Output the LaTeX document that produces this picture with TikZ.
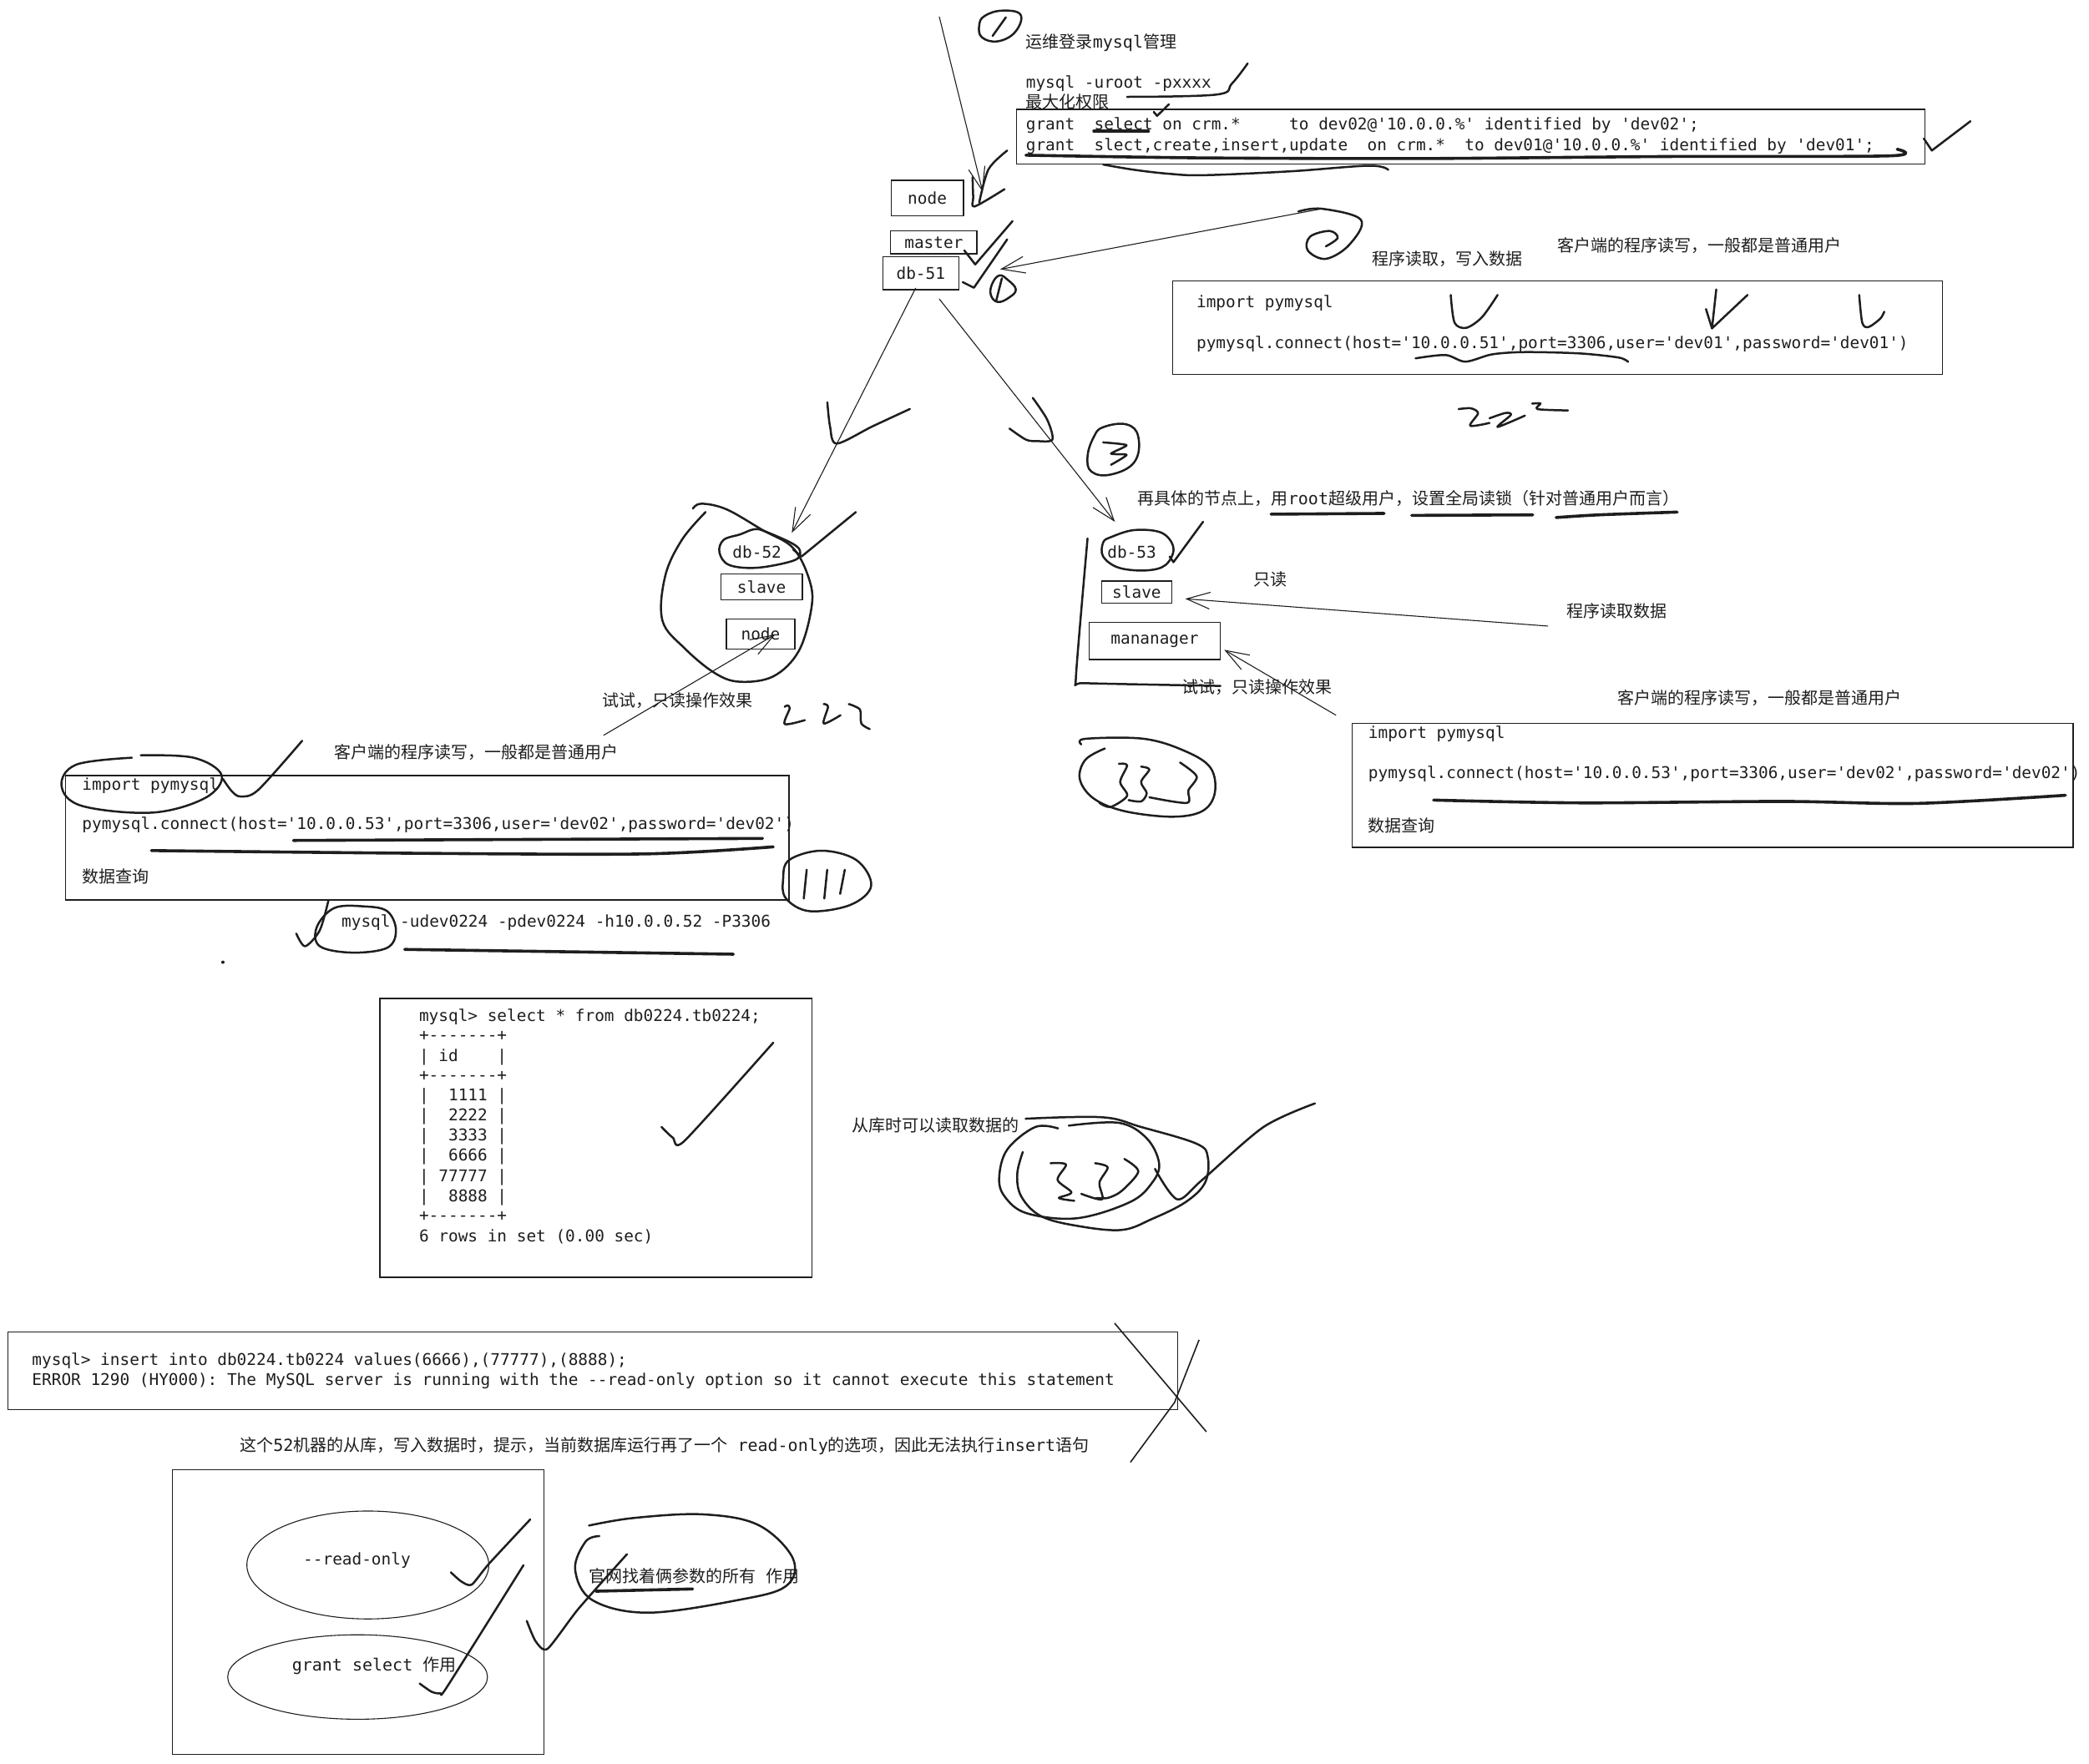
\documentclass[tikz,border=0pt]{standalone}
\usepackage{fontspec}
\setmonofont{DejaVu Sans Mono}
\newfontfamily\cjk{Noto Sans CJK SC}
\usetikzlibrary{arrows.meta,shapes.geometric}
\definecolor{ink}{HTML}{1E1E1E}
\begin{document}
\begin{tikzpicture}[x=1.5957pt,y=-1.5957pt,
 mono/.style={font=\ttfamily\fontsize{19.4}{23}\selectfont,text=ink,inner sep=0pt,anchor=west},
 zh/.style={font=\cjk\fontsize{20}{24}\selectfont,text=ink,inner sep=0pt,anchor=west},
 lbl/.style={mono,anchor=center},
 box/.style={draw=ink,line width=1.4pt},
 sz/.style 2 args={minimum width=#1*1.5957pt,minimum height=#2*1.5957pt,inner sep=0pt},
 thin/.style={draw=ink,line width=1.1pt},
 arr/.style={thin,-{Straight Barb[length=28pt,width=20pt]}},
 pen/.style={draw=ink,line width=2.5pt,line cap=round,line join=round},
 heavy/.style={pen,line width=3.6pt}]
\useasboundingbox (0,0) rectangle (1568,1323.6);
\fill[white] (0,0) rectangle (1568,1323.6);

% ---------- top: admin grants ----------
\draw[pen] plot[smooth cycle,tension=0.7] coordinates {(739,12) (752,8) (766,11) (762,24) (749,31) (737,28) (735,19)};
\draw[pen] (745,27) -- (755,13);
\node[zh] (t1) at (770,32) {运维登录{\ttfamily mysql}管理};
\node[mono] (t2) at (770,62.5) {mysql -uroot -pxxxx};
\node[zh] (t3) at (770,76.5) {最大化权限};
\draw[pen] plot[smooth,tension=0.6] coordinates {(936.5,47.6) (924.7,62.7) (913,71) (846,72.7)};
\draw[pen] (866,84) -- (868.5,87) -- (877.4,78.3);
\node[box,sz={682}{41}] (gbox) at (1104,102.5) {};
\node[mono] (g1) at (770,94) {grant~~select on crm.*~~~~~to dev02@'10.0.0.\%' identified by 'dev02';};
\node[mono] (g2) at (770,109.5) {grant~~slect,create,insert,update~~on crm.*~~to dev01@'10.0.0.\%' identified by 'dev01';};
\draw[heavy] (821,98.5) -- (862,98.5);
\draw[heavy] plot[smooth,tension=0.5] coordinates {(770,116.5) (900,118.5) (1068,119) (1250,117.5) (1418,117) (1424,112)};
\draw[pen] plot[smooth,tension=0.6] coordinates {(828,123.5) (851.5,127.5) (878,130.5) (904.2,131.5) (968.7,128.6) (1027.3,124.4) (1042,127.5)};
\draw[pen] (1444,104) -- (1450,113) -- (1479,91);

% ---------- master ----------
\node[box,sz={54.3}{26.5},lbl] (nodeA) at (696,148.6) {node};
\node[box,sz={64.7}{17.1},lbl] (master) at (700.9,182) {master};
\node[box,sz={57}{24.7},lbl] (db51) at (691.1,205) {db-51};
\coordinate (aTopS) at (705,12.5);
\coordinate (aTopE) at (737.6,144);
\draw[arr] (aTopS) -- (aTopE);
\draw[pen] plot[smooth,tension=0.5] coordinates {(730,133) (730.5,148) (731.5,155) (754,142)};
\draw[pen] plot[smooth,tension=0.5] coordinates {(756,113) (742,127) (735,152)};
\draw[pen] (723.8,188) -- (732,198.5) -- (760,166);
\draw[pen] (722.6,211.8) -- (731,216) -- (756,179.7);
\draw[pen] plot[smooth cycle,tension=0.7] coordinates {(750,206.8) (756.2,209.9) (762.5,217.3) (757.2,223.5) (748.9,226.7) (743.7,221.4) (744.7,213.1)};
\draw[pen] (747.8,225.6) -- (752,208.9);

% ---------- program 1 (dev01 -> db-51) ----------
\draw[pen] plot[smooth,tension=0.6] coordinates {(974.5,158.8) (992.2,156.7) (1021.5,165) (1012.7,183.8) (995.2,194.3) (981.6,188) (983.4,177.6) (998,173.4) (1004,178.6) (995.2,184.9)};
\coordinate (a2S) at (992.2,156.7);
\coordinate (a2E) at (750.7,202.2);
\draw[arr] (a2S) -- (a2E);
\node[zh] (t4) at (1030,194.3) {程序读取，写入数据};
\node[zh] (t5) at (1169,184.5) {客户端的程序读写，一般都是普通用户};
\node[box,sz={578}{70}] (p1box) at (1169,246) {};
\node[mono] (p1a) at (898,227.5) {import pymysql};
\node[mono] (p1b) at (898,258) {pymysql.connect(host='10.0.0.51',port=3306,user='dev01',password='dev01')};
\draw[pen] plot[smooth,tension=0.5] coordinates {(1088.9,221.4) (1091.8,242.3) (1100.6,246.1) (1112.4,238.1) (1124.1,221.4)};
\draw[pen] (1288.2,217.3) -- (1285,246.5) -- (1311.7,221.4);
\draw[pen] (1280.5,232) -- (1285,246.5);
\draw[pen] plot[smooth,tension=0.5] coordinates {(1395.5,221.4) (1397.8,242.3) (1402.5,245.5) (1411.3,239.2) (1414.3,234)};
\draw[pen] plot[smooth,tension=0.5] coordinates {(1062.5,269) (1085,266.5) (1100,271.5) (1120,266) (1144.6,264.3) (1185.6,265.3) (1214.9,268.4) (1222,271.6)};
\draw[pen] plot[smooth,tension=0.5] coordinates {(1094.8,307.1) (1104,306.5) (1109.4,310.2) (1103.5,319.6) (1118,317.5)};
\draw[pen] plot[smooth,tension=0.5] coordinates {(1118,314) (1130,310) (1134,311.5) (1124,320.5) (1144.6,312)};
\draw[pen] plot[smooth,tension=0.5] coordinates {(1150,303) (1156.3,302.9) (1154,307.1) (1176.9,308.1)};

% ---------- db-51 -> db-52 / db-53 ----------
\coordinate (c51a) at (687.3,216.2);
\coordinate (c52) at (594.3,400);
\draw[arr] (c51a) -- (c52);
\coordinate (c51b) at (705,224.4);
\coordinate (c53) at (836.8,391.7);
\draw[arr] (c51b) -- (c53);
\draw[pen] plot[smooth,tension=0.5] coordinates {(621,302) (623,320) (628,333) (655,320) (683,307)};
\draw[pen] plot[smooth,tension=0.5] coordinates {(757.7,321.7) (770,330) (778.2,331.1) (789.9,330) (786,315) (775.2,298.7)};
% circled 3
\draw[pen] plot[smooth cycle,tension=0.7] coordinates {(828,320.7) (845.6,318.6) (854.4,328) (851.5,346.8) (833.9,356.2) (819.3,354.1) (816.3,342.6) (821,328)};
\draw[pen] plot[smooth,tension=0.4] coordinates {(828,332.1) (845.6,334.2) (833.9,340.5) (845.6,341.5) (833.9,348.9)};

% ---------- db-52 group ----------
\draw[pen] plot[smooth,tension=0.6] coordinates {(520.1,381.8) (526.4,378.1) (545.2,382.3) (572.4,397.9) (595.4,411.5) (607.9,436.6) (608.9,457.5) (599.5,488.8) (580.7,507.6) (555.7,511.8) (536.9,505.5) (513.9,486.7) (497.2,465.8) (499.3,432.4) (511.8,405.3) (529.6,384.4)};
\draw[pen] plot[smooth cycle,tension=0.6] coordinates {(566.1,397.3) (574.5,399) (595.4,408.4) (600.6,414.7) (595.4,420.9) (568.2,426.2) (547.3,424.1) (540,414.7) (543.1,405.3) (555.7,401.1)};
\node[lbl] (db52) at (568.2,414.7) {db-52};
\node[box,sz={61.2}{19.7},lbl] (slave52) at (571.6,440.6) {slave};
\node[box,sz={51.4}{22.3},lbl] (node52) at (570.9,476) {node};
\draw[pen] (595.4,412.6) -- (601.6,417.8) -- (642.4,384.4);
\coordinate (tryL) at (453,552);
\coordinate (tryLE) at (581.8,476.3);
\draw[arr] (tryL) -- (tryLE);
\node[zh] (t6) at (452,526) {试试，只读操作效果};
\draw[pen] plot[smooth,tension=0.5] coordinates {(589,530.6) (590.8,529.6) (592.8,531.6) (589,543.5) (604.1,540.6)};
\draw[pen] plot[smooth,tension=0.5] coordinates {(618.3,528.5) (621.5,530.6) (618.3,543.1) (630.9,536.9)};
\draw[pen] plot[smooth,tension=0.5] coordinates {(637.1,528.5) (645.5,532.7) (646.5,543.1) (652.8,547.3)};

% ---------- db-53 group ----------
\node[zh] (t7) at (854,374) {再具体的节点上，用{\ttfamily root}超级用户，设置全局读锁（针对普通用户而言）};
\draw[heavy] (954,386) -- (1039,385.4);
\draw[heavy] (1059.6,386.9) -- (1150.5,386.5);
\draw[heavy] plot[smooth,tension=0.5] coordinates {(1168,388.5) (1200,386.5) (1258.9,384.4)};
\draw[pen] plot[smooth cycle,tension=0.6] coordinates {(833.9,403.2) (851.5,397.9) (872,400) (880.8,411.5) (874.9,424.1) (860.3,428.2) (839.8,426.2) (828,417.8) (828,407.3)};
\node[lbl] (db53) at (849.5,414.7) {db-53};
\draw[pen] (877.9,417.8) -- (880.8,422) -- (903,391.7);
\draw[pen] plot[smooth,tension=0.3] coordinates {(816.3,404.2) (807.5,509.7) (813.4,512.8) (916,514.9)};
\node[box,sz={52.7}{16.5},lbl] (slave53) at (853.2,444.4) {slave};
\node[box,sz={98.5}{27.8},lbl] (mgr) at (866.7,481.2) {mananager};
\node[zh] (t8) at (941,435) {只读};
\coordinate (rdS) at (1162,470);
\coordinate (rdE) at (889.6,449.5);
\draw[arr] (rdS) -- (rdE);
\node[zh] (t9) at (1176,458.5) {程序读取数据};
\coordinate (tryR) at (1002.8,536.9);
\coordinate (tryRE) at (918.9,487.8);
\draw[arr] (tryR) -- (tryRE);
\node[zh] (t10) at (887,516) {试试，只读操作效果};
\node[zh] (t11) at (1214,524) {客户端的程序读写，一般都是普通用户};
% (33)
\draw[pen] plot[smooth,tension=0.6] coordinates {(811.6,558.8) (814.7,554.6) (858.6,554.6) (889.9,564) (908.7,576.5) (911.8,595.4) (902.4,608.9) (879.4,613.1) (844,608.9) (821,599.5) (810.5,584.9) (814.7,570.3) (829.3,561.9)};
\draw[pen] plot[smooth,tension=0.5] coordinates {(839.8,573.4) (846,574.5) (840.8,587) (846,597.4) (833.5,605.8) (825.2,602.7)};
\draw[pen] plot[smooth,tension=0.5] coordinates {(856.5,575.5) (862.7,577.6) (856.5,587) (860.7,595.4) (856.5,601.6) (847.1,600.6)};
\draw[pen] plot[smooth,tension=0.5] coordinates {(885.7,572.4) (898.2,582.8) (892,593.3) (890.9,602.7) (862.7,598.5)};
\node[box,sz={541}{93}] (p3box) at (1285.5,589.5) {};
\node[mono] (p3a) at (1027,551) {import pymysql};
\node[mono] (p3b) at (1027,581) {pymysql.connect(host='10.0.0.53',port=3306,user='dev02',password='dev02')};
\node[zh] (p3c) at (1027,619.5) {数据查询};
\draw[heavy] plot[smooth,tension=0.5] coordinates {(1076,600.6) (1187,602.7) (1338.4,601.6) (1439.3,603.1) (1550.3,597)};

% ---------- program 2 (dev02 -> db-53) ----------
\node[zh] (t12) at (251,564.4) {客户端的程序读写，一般都是普通用户};
\node[box,sz={542.9}{93.3}] (p2box) at (320.75,628.95) {};
\node[mono] (p2a) at (61.6,589.5) {import pymysql};
\node[mono] (p2b) at (61.6,619.4) {pymysql.connect(host='10.0.0.53',port=3306,user='dev02',password='dev02')};
\node[zh] (p2c) at (61.6,657.7) {数据查询};
\draw[pen] plot[smooth,tension=0.6] coordinates {(99,568.8) (57.2,574) (46.2,590) (61.6,605) (114.5,610) (154,599) (166.4,582) (145.3,568.8) (105.7,567)};
\draw[pen] plot[smooth,tension=0.5] coordinates {(167.3,584.7) (174,594) (180.5,597.9) (193.7,593.1) (226.8,556.1)};
\draw[heavy] (220.2,630.9) -- (572.4,629.4);
\draw[heavy] plot[smooth,tension=0.5] coordinates {(113.6,638.5) (308.2,640.5) (484.4,641) (580.4,635.7)};
\draw[pen] plot[smooth cycle,tension=0.6] coordinates {(592.2,645.7) (616.5,638.6) (642.9,645.7) (653.9,664.9) (638.5,679.2) (607.7,684) (590,674.5) (587.8,660.1)};
\draw[pen] (605.5,652.9) -- (603.3,674.5);
\draw[pen] (620.9,652.9) -- (618.7,674.5);
\draw[pen] (634.1,652.9) -- (630.6,671);
\node[mono] (cmd) at (256.3,692.4) {mysql -udev0224 -pdev0224 -h10.0.0.52 -P3306};
\draw[pen] plot[smooth cycle,tension=0.6] coordinates {(273,680.4) (290.6,684) (297.2,698.4) (290.6,711.5) (264.2,715.1) (240,710.3) (237.8,695.9) (251,681.6)};
\draw[pen] plot[smooth,tension=0.5] coordinates {(222.4,700.8) (229,710.3) (240,698.4) (246.6,675.6)};
\draw[heavy] (303.8,712.7) -- (550.4,716.3);
\fill[ink] (167.3,722.3) circle[radius=2pt];

% ---------- select result ----------
\node[box,sz={324.1}{209.3}] (qbox) at (447.25,854.15) {};
\node[mono] (q1) at (314.5,763.5) {mysql> select * from db0224.tb0224;};
\node[mono] (q2) at (314.5,777.7) {+-------+};
\node[mono] (q3) at (314.5,793.4) {| id~~~~|};
\node[mono] (q4) at (314.5,807.8) {+-------+};
\node[mono] (q5) at (314.5,823) {|~~1111 |};
\node[mono] (q6) at (314.5,838.1) {|~~2222 |};
\node[mono] (q7) at (314.5,853.4) {|~~3333 |};
\node[mono] (q8) at (314.5,868.4) {|~~6666 |};
\node[mono] (q9) at (314.5,883.6) {| 77777 |};
\node[mono] (q10) at (314.5,898.7) {|~~8888 |};
\node[mono] (q11) at (314.5,912.9) {+-------+};
\node[mono] (q12) at (314.5,928.6) {6 rows in set (0.00 sec)};
\draw[pen] plot[smooth,tension=0.4] coordinates {(496.5,846) (505,854) (513.7,856.5) (580.4,782.7)};
\node[zh] (t13) at (639.5,845) {从库时可以读取数据的};
\draw[pen] plot[smooth,tension=0.6] coordinates {(794.2,847.1) (777.1,846) (756.2,862.7) (750,883.6) (754.1,898.2) (770.8,910.8) (808.4,914.5) (848.1,902.4) (864.8,887.8) (870,873.2) (860.6,854.4) (839.8,842.9) (802.2,845)};
\draw[pen] plot[smooth,tension=0.6] coordinates {(769.8,839.8) (827.2,838.7) (856.5,846) (898.2,858.6) (906.6,869) (904.5,887.8) (889.9,902.4) (864.8,915) (841.8,923.3) (808.4,920.2) (781.3,912.9) (766.6,898.2) (763.5,881.5) (767.7,864.8)};
\draw[pen] plot[smooth,tension=0.5] coordinates {(788.6,873.2) (800.1,874.2) (793.8,885.7) (804.2,895.1) (794.8,899.3) (806.3,901.4)};
\draw[pen] plot[smooth,tension=0.5] coordinates {(822,873.2) (831.4,876.3) (825.2,887.8) (827.2,900.3) (811.6,896.2)};
\draw[pen] plot[smooth,tension=0.5] coordinates {(843.9,870) (854.4,879.4) (841.8,894.1) (831.4,899.3) (823,899.3)};
\draw[pen] plot[smooth,tension=0.5] coordinates {(866.9,877.4) (883.6,900.3) (902.4,885.7) (948.4,846) (987,828.3)};

% ---------- insert error ----------
\node[box,sz={878}{58}] (ebox) at (445,1029) {};
\node[mono] (e1) at (24,1021.5) {mysql> insert into db0224.tb0224 values(6666),(77777),(8888);};
\node[mono] (e2) at (24,1036.5) {ERROR 1290 (HY000): The MySQL server is running with the --read-only option so it cannot execute this statement};
\draw[thin,line width=1.6pt] (836.6,993.3) -- (905.5,1074.8);
\draw[thin,line width=1.6pt] (900,1005.8) -- (881.6,1052.8) -- (848.5,1097.7);
\node[zh] (t14) at (180,1085.2) {这个{\ttfamily 52}机器的从库，写入数据时，提示，当前数据库运行再了一个{\ttfamily\ read-only}的选项，因此无法执行{\ttfamily insert}语句};

% ---------- parameters box ----------
\node[box,sz={279}{213.7}] (rbox) at (268.9,1210.25) {};
\node[ellipse,thin,sz={181.6}{81}] (ell1) at (276.1,1174.8) {};
\node[ellipse,thin,sz={195}{63.4}] (ell2) at (268.4,1258.9) {};
\node[lbl] (ro) at (267.9,1171.5) {--read-only};
\node[zh] (gs) at (219.1,1250.2) {{\ttfamily grant select\ }作用};
\draw[pen] plot[smooth,tension=0.4] coordinates {(338.4,1180.3) (346,1187) (354,1189.6) (366.9,1174) (398,1140.6)};
\draw[pen] plot[smooth,tension=0.4] coordinates {(315,1263.8) (324,1270) (330.6,1271.1) (335.8,1265.9) (392.9,1175)};
\draw[pen] plot[smooth,tension=0.4] coordinates {(395.4,1216.8) (402,1232) (411,1237.7) (434.4,1207.4) (470.6,1166.7)};
\draw[pen] plot[smooth,tension=0.6] coordinates {(442.1,1145.2) (475.8,1139.5) (527.7,1136.8) (569.2,1144.8) (595.1,1169.8) (589.9,1190.7) (553.6,1201.2) (486.2,1210.6) (444.7,1201.2) (431.7,1178.2) (439.5,1157.3) (449.9,1153.1)};
\node[zh] (t15) at (442.1,1183.4) {官网找着俩参数的所有{\ttfamily\ }作用};
\draw[heavy] (447.3,1194.5) -- (519.9,1192.8);
\end{tikzpicture}
\end{document}
